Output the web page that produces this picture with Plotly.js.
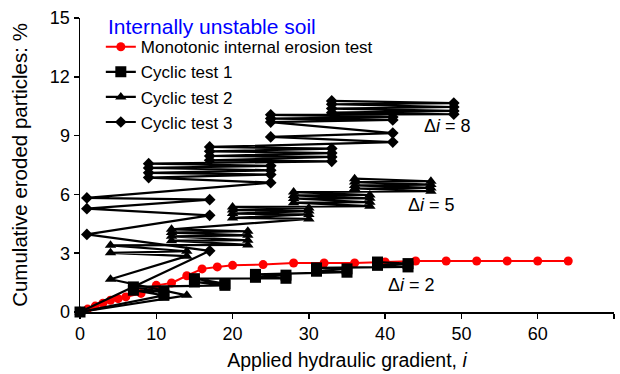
<!DOCTYPE html>
<html><head><meta charset="utf-8">
<script src="https://cdn.plot.ly/plotly-3.0.1.min.js"></script>
<style>html,body{margin:0;padding:0;background:#fff}#chart{width:620px;height:374px}</style>
</head><body><div id="chart"></div>
<script>
// Monotonic internal erosion test
const monoX = [0, 1, 2, 3, 4, 5, 6, 8, 10, 12, 14, 16, 18, 20, 24, 28, 32, 36, 40, 44, 48, 52, 56, 60, 64];
const monoY = [0, 0.15, 0.3, 0.45, 0.6, 0.68, 0.77, 0.95, 1.36, 1.48, 1.85, 2.2, 2.3, 2.38, 2.42, 2.5, 2.5, 2.5, 2.55, 2.6, 2.6, 2.6, 2.6, 2.6, 2.6];
// Cyclic test 1 (Δi = 2)
const cyc1X = [0, 11, 7, 11, 7, 19, 15, 19, 15, 27, 23, 27, 23, 35, 31, 35, 31, 43, 39, 43, 39];
const cyc1Y = [0, 0.85, 1.11, 1.02, 1.28, 1.36, 1.53, 1.45, 1.7, 1.72, 1.77, 1.88, 1.92, 2.03, 2.08, 2.2, 2.25, 2.3, 2.38, 2.47, 2.55];
// Cyclic test 2 (Δi = 5)
const cyc2X = [0, 14, 4, 14, 4, 14, 4, 22, 12, 22, 12, 22, 12, 22, 12, 30, 20, 30, 20, 30, 20, 30, 20, 38, 28, 38, 28, 38, 28, 38, 28, 46, 36, 46, 36, 46, 36, 46, 36];
const cyc2Y = [0, 0.85, 1.67, 2.85, 3.02, 3.1, 3.4, 3.42, 3.64, 3.66, 3.86, 3.91, 4.05, 4.12, 4.22, 4.75, 4.8, 4.98, 5.02, 5.15, 5.2, 5.3, 5.36, 5.4, 5.58, 5.6, 5.79, 5.8, 5.95, 5.97, 6.12, 6.16, 6.3, 6.33, 6.46, 6.5, 6.63, 6.67, 6.8];
// Cyclic test 3 (Δi = 8)
const cyc3X = [0, 17, 0.9, 17, 0.9, 17, 0.9, 25, 9, 25, 9, 25, 9, 25, 9, 33, 17, 33, 17, 33, 17, 33, 17, 41, 25, 41, 25, 41, 25, 41, 25, 49, 33, 49, 33, 49, 33, 49, 33];
const cyc3Y = [0, 3.12, 3.96, 4.93, 5.27, 5.73, 5.82, 6.6, 6.86, 7.01, 7.1, 7.23, 7.35, 7.46, 7.57, 7.69, 7.74, 7.91, 7.96, 8.11, 8.2, 8.34, 8.42, 8.67, 8.93, 9.13, 9.69, 9.8, 9.87, 9.95, 10.06, 10.09, 10.17, 10.26, 10.38, 10.46, 10.6, 10.66, 10.77];

const xTicks = [0, 10, 20, 30, 40, 50, 60, 70];
const yTicks = [0, 3, 6, 9, 12, 15];
const seriesNames = ['Monotonic internal erosion test', 'Cyclic test 1', 'Cyclic test 2', 'Cyclic test 3'];

const FONT = 'Arial, "Liberation Sans", sans-serif';
const traces = [
  {x: monoX, y: monoY, name: seriesNames[0], mode: 'lines+markers', cliponaxis: false,
   line: {color: '#ff0000', width: 2}, marker: {symbol: 'circle', size: 9, color: '#ff0000'}},
  {x: cyc1X, y: cyc1Y, name: seriesNames[1], mode: 'lines+markers', cliponaxis: false,
   line: {color: '#000', width: 2.2}, marker: {symbol: 'square', size: 11, color: '#000'}},
  {x: cyc2X, y: cyc2Y, name: seriesNames[2], mode: 'lines+markers', cliponaxis: false,
   line: {color: '#000', width: 2.2}, marker: {symbol: 'triangle-up', size: 10, color: '#000'}},
  {x: cyc3X, y: cyc3Y, name: seriesNames[3], mode: 'lines+markers', cliponaxis: false,
   line: {color: '#000', width: 2.2}, marker: {symbol: 'diamond', size: 9, color: '#000'}}
];

const layout = {
  width: 620, height: 374,
  margin: {l: 80, r: 6, t: 18, b: 62},
  paper_bgcolor: '#fff', plot_bgcolor: '#fff',
  font: {family: FONT, size: 17, color: '#000'},
  showlegend: true,
  legend: {
    x: 0.039, y: 0.962, xanchor: 'left', yanchor: 'top',
    bgcolor: 'rgba(0,0,0,0)', borderwidth: 0,
    font: {family: FONT, size: 17, color: '#000'},
    tracegroupgap: 0
  },
  xaxis: {
    range: [0, 70], tickvals: xTicks, ticktext: xTicks.map(String),
    showline: true, linecolor: '#000', linewidth: 1.5, mirror: false,
    ticks: 'outside', ticklen: 5, tickwidth: 1.5, tickcolor: '#000',
    showgrid: false, zeroline: false,
    tickfont: {family: FONT, size: 18, color: '#000'},
    title: {text: 'Applied hydraulic gradient, <i>i</i>', font: {family: FONT, size: 19.5, color: '#000'}, standoff: 10}
  },
  yaxis: {
    range: [0, 15], tickvals: yTicks, ticktext: yTicks.map(String),
    showline: true, linecolor: '#000', linewidth: 1.5, mirror: false,
    ticks: 'outside', ticklen: 5, tickwidth: 1.5, tickcolor: '#000',
    showgrid: false, zeroline: false,
    tickfont: {family: FONT, size: 18, color: '#000'},
    title: {text: 'Cumulative eroded particles: %', font: {family: FONT, size: 20.5, color: '#000'}, standoff: 16}
  },
  annotations: [
    {x: 0.048, y: 0.97, xref: 'paper', yref: 'paper', xanchor: 'left', yanchor: 'middle',
     text: 'Internally unstable soil', showarrow: false, font: {family: FONT, size: 21, color: '#0000ff'}},
    {x: 48.2, y: 9.5, xref: 'x', yref: 'y', text: 'Δ<i>i</i> = 8', showarrow: false, font: {family: FONT, size: 18, color: '#000'}},
    {x: 46.1, y: 5.44, xref: 'x', yref: 'y', text: 'Δ<i>i</i> = 5', showarrow: false, font: {family: FONT, size: 18, color: '#000'}},
    {x: 43.5, y: 1.36, xref: 'x', yref: 'y', text: 'Δ<i>i</i> = 2', showarrow: false, font: {family: FONT, size: 18, color: '#000'}}
  ]
};

Plotly.newPlot('chart', traces, layout, {displayModeBar: false, staticPlot: true});
</script>
</body></html>
